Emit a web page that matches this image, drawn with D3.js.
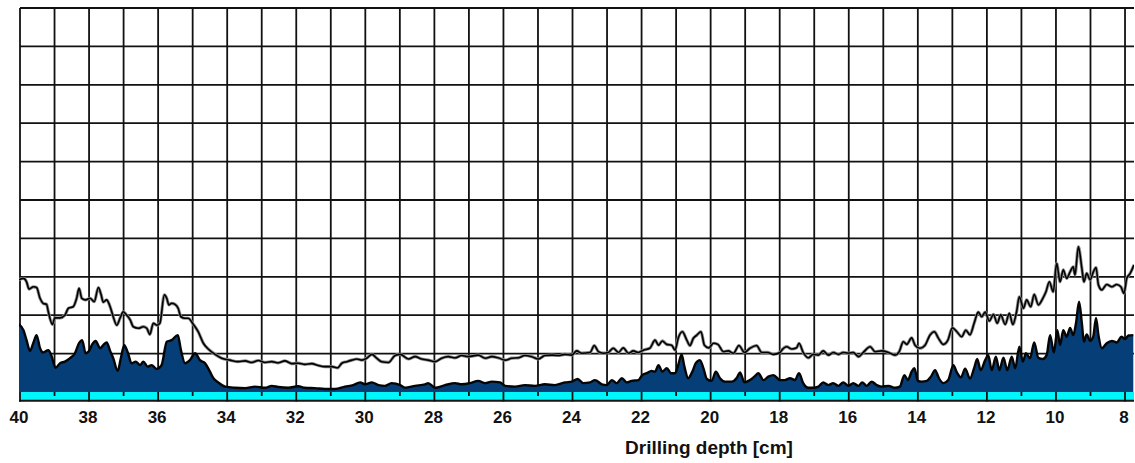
<!DOCTYPE html>
<html>
<head>
<meta charset="utf-8">
<script src="https://cdn.jsdelivr.net/npm/d3@7"></script>
<style>
  html, body { margin: 0; padding: 0; background: #fff; }
  svg { display: block; }
</style>
</head>
<body>
<svg id="chart" width="1135" height="463"></svg>
<script>
// ---- data ----
const depthTicks = [40, 38, 36, 34, 32, 30, 28, 26, 24, 22, 20, 18, 16, 14, 12, 10, 8];
const xTitle = "Drilling depth [cm]";

// upper curve (line)
const lineDepth = [40.03,39.90,39.81,39.74,39.61,39.52,39.42,39.33,39.23,39.18,39.06,38.99,38.84,38.70,38.60,38.46,38.36,38.29,38.21,38.10,37.97,37.85,37.73,37.65,37.59,37.49,37.39,37.30,37.20,37.10,37.01,36.91,36.81,36.72,36.57,36.43,36.33,36.24,36.14,36.04,35.95,35.82,35.75,35.69,35.61,35.51,35.42,35.34,35.22,35.13,34.98,34.84,34.69,34.55,34.35,34.16,33.92,33.68,33.48,33.29,33.10,32.90,32.71,32.52,32.33,32.13,31.94,31.75,31.55,31.36,31.17,30.97,30.80,30.68,30.54,30.39,30.25,30.10,29.96,29.81,29.67,29.53,29.33,29.14,28.99,28.75,28.56,28.37,28.18,27.98,27.79,27.60,27.40,27.21,27.02,26.73,26.53,26.34,26.15,25.95,25.76,25.57,25.38,25.18,24.99,24.80,24.60,24.41,24.22,24.02,23.88,23.73,23.49,23.37,23.25,23.11,22.96,22.82,22.67,22.53,22.38,22.24,22.09,21.95,21.76,21.61,21.51,21.40,21.27,21.13,21.03,20.94,20.82,20.69,20.60,20.50,20.40,20.28,20.18,20.05,19.92,19.79,19.63,19.49,19.34,19.18,19.02,18.86,18.67,18.52,18.35,18.18,17.99,17.94,17.80,17.65,17.51,17.44,17.32,17.17,17.03,16.88,16.74,16.59,16.45,16.30,16.16,16.01,15.87,15.72,15.58,15.38,15.24,15.05,14.85,14.66,14.54,14.42,14.32,14.18,14.08,13.94,13.79,13.65,13.52,13.41,13.26,13.13,13.00,12.87,12.73,12.61,12.49,12.37,12.25,12.15,12.05,11.93,11.81,11.70,11.60,11.47,11.35,11.25,11.14,11.06,10.94,10.85,10.73,10.63,10.51,10.38,10.29,10.19,10.08,9.98,9.88,9.79,9.69,9.59,9.50,9.45,9.35,9.25,9.19,9.11,9.01,8.92,8.84,8.77,8.67,8.53,8.38,8.24,8.12,8.03,7.95,7.85,7.74];
const lineValue = [2.92,2.96,2.87,2.68,2.74,2.72,2.44,2.31,2.28,2.09,1.76,1.93,1.93,2.00,2.18,2.22,2.44,2.70,2.44,2.40,2.44,2.35,2.72,2.53,2.34,2.40,2.22,1.96,1.74,1.93,2.09,2.00,1.88,1.70,1.66,1.70,1.66,1.50,1.79,1.74,1.79,2.53,2.44,2.27,2.31,2.28,2.18,1.96,1.92,1.92,1.76,1.57,1.27,1.12,0.98,0.88,0.83,0.79,0.81,0.77,0.82,0.77,0.79,0.76,0.81,0.74,0.75,0.72,0.74,0.69,0.66,0.66,0.63,0.75,0.79,0.83,0.86,0.83,0.88,0.98,0.88,0.79,0.77,0.95,0.98,0.86,0.92,0.86,0.83,0.79,0.88,0.92,0.89,0.95,0.92,0.96,0.88,0.92,0.89,0.83,0.88,0.89,0.95,0.92,0.86,0.95,0.96,0.95,0.98,0.96,1.07,1.01,1.03,1.21,1.05,1.01,1.03,1.14,1.03,1.15,1.01,1.07,1.03,1.09,1.14,1.35,1.22,1.33,1.24,1.22,1.09,1.40,1.57,1.35,1.21,1.40,1.48,1.57,1.22,1.15,1.27,1.24,1.05,1.07,1.01,1.21,1.03,1.14,1.21,1.03,1.03,0.98,1.03,1.09,1.18,1.12,1.15,1.27,1.03,0.89,0.98,0.96,1.07,0.96,1.03,0.98,1.03,1.01,1.03,0.92,1.03,1.18,1.05,1.07,1.03,0.96,1.05,1.31,1.24,1.41,1.22,1.14,1.22,1.48,1.57,1.41,1.24,1.35,1.67,1.57,1.44,1.61,1.49,1.79,2.08,1.96,2.08,1.85,2.02,1.79,2.01,1.76,2.05,1.76,2.09,2.48,2.18,2.40,2.22,2.54,2.27,2.44,2.61,2.87,2.61,3.35,2.87,3.18,2.96,3.13,3.26,3.05,3.78,3.22,2.87,3.09,2.92,3.12,3.24,2.79,2.66,2.80,2.74,2.80,2.74,2.57,2.96,3.09,3.31];

// lower curve (filled area)
const areaDepth = [40.03,39.90,39.81,39.71,39.61,39.52,39.42,39.33,39.18,39.08,38.97,38.84,38.70,38.55,38.41,38.29,38.20,38.10,38.00,37.91,37.81,37.68,37.59,37.49,37.39,37.30,37.17,37.08,36.98,36.88,36.77,36.65,36.52,36.43,36.30,36.19,36.04,35.90,35.75,35.61,35.43,35.34,35.22,35.08,34.93,34.79,34.64,34.50,34.40,34.26,34.06,33.77,33.48,33.19,32.90,32.71,32.52,32.23,31.94,31.75,31.46,31.17,30.88,30.59,30.35,30.15,30.01,29.81,29.62,29.43,29.24,28.99,28.85,28.56,28.27,28.18,27.98,27.69,27.40,27.21,26.97,26.73,26.53,26.34,26.10,25.95,25.66,25.38,25.09,24.80,24.51,24.22,24.02,23.85,23.69,23.49,23.35,23.15,23.01,22.86,22.72,22.57,22.43,22.29,22.09,21.98,21.85,21.71,21.61,21.51,21.40,21.27,21.15,21.03,20.94,20.84,20.76,20.65,20.53,20.43,20.31,20.21,20.11,19.97,19.85,19.73,19.58,19.39,19.24,19.15,19.02,18.86,18.71,18.62,18.47,18.33,18.18,17.99,17.85,17.70,17.56,17.44,17.32,17.17,17.03,16.88,16.74,16.59,16.45,16.30,16.16,16.01,15.87,15.72,15.61,15.48,15.34,15.19,15.05,14.85,14.66,14.52,14.39,14.29,14.18,14.10,14.00,13.89,13.74,13.62,13.50,13.39,13.26,13.12,12.97,12.87,12.75,12.63,12.49,12.37,12.28,12.18,12.05,11.96,11.86,11.74,11.64,11.52,11.41,11.28,11.18,11.06,10.96,10.87,10.75,10.63,10.51,10.38,10.27,10.17,10.06,9.96,9.88,9.79,9.69,9.59,9.50,9.42,9.33,9.25,9.19,9.11,9.01,8.92,8.84,8.77,8.67,8.53,8.38,8.24,8.10,8.00,7.90,7.76];
const areaValue = [1.76,1.61,1.35,1.07,1.29,1.48,1.14,1.03,1.09,0.92,0.63,0.75,0.79,0.88,1.01,1.27,1.35,1.01,1.07,1.24,1.33,1.14,1.22,1.29,1.07,0.88,0.55,0.88,1.22,1.03,0.75,0.79,0.70,0.79,0.66,0.70,0.60,0.70,1.31,1.35,1.48,1.09,0.75,0.83,1.01,0.83,0.75,0.53,0.36,0.25,0.14,0.11,0.10,0.14,0.11,0.16,0.13,0.11,0.15,0.11,0.10,0.08,0.08,0.14,0.18,0.25,0.20,0.25,0.18,0.16,0.23,0.18,0.11,0.16,0.20,0.23,0.11,0.18,0.23,0.20,0.23,0.29,0.23,0.27,0.25,0.16,0.14,0.18,0.16,0.20,0.18,0.25,0.27,0.34,0.23,0.25,0.31,0.20,0.18,0.31,0.23,0.36,0.25,0.29,0.31,0.44,0.49,0.55,0.53,0.70,0.53,0.62,0.49,0.49,0.70,0.98,0.66,0.36,0.53,0.75,0.83,0.62,0.34,0.29,0.53,0.36,0.27,0.27,0.37,0.51,0.25,0.31,0.42,0.49,0.31,0.40,0.44,0.31,0.31,0.36,0.31,0.49,0.23,0.11,0.11,0.14,0.25,0.18,0.23,0.16,0.25,0.16,0.23,0.16,0.25,0.16,0.27,0.18,0.14,0.16,0.11,0.14,0.44,0.31,0.53,0.62,0.29,0.27,0.29,0.40,0.57,0.36,0.23,0.31,0.70,0.51,0.38,0.61,0.35,0.62,0.86,0.57,0.83,0.96,0.57,0.92,0.57,0.89,0.57,0.92,0.62,1.18,0.79,1.01,0.88,1.29,0.89,0.86,0.96,1.48,1.03,1.61,1.22,1.61,1.44,1.67,1.48,1.79,2.35,1.79,1.31,1.50,1.33,1.44,1.93,1.48,1.14,1.27,1.33,1.29,1.44,1.38,1.47,1.48];

// ---- layout ----
const svg = d3.select("#chart");
const x = d3.scaleLinear().domain([40, 7.74]).range([20, 1134]);
const y = d3.scaleLinear().domain([0, 10]).range([392, 8]);

const gridColor = "#111";
const xStart = x(40), xEnd = x(7.74);

// cyan band
svg.append("rect")
  .attr("x", xStart).attr("y", y(0))
  .attr("width", xEnd - xStart).attr("height", 8)
  .attr("fill", "#00f6fb");

// grid
const grid = svg.append("g").attr("stroke", gridColor).attr("stroke-width", 1.8).attr("fill", "none");
grid.selectAll("line.h").data(d3.range(1, 11)).join("line")
  .attr("class", "h")
  .attr("x1", xStart).attr("x2", xEnd)
  .attr("y1", d => y(d)).attr("y2", d => y(d));
grid.selectAll("line.v").data(d3.range(8, 41)).join("line")
  .attr("class", "v")
  .attr("x1", d => x(d)).attr("x2", d => x(d))
  .attr("y1", y(10)).attr("y2", y(0));

// data
const lineData = lineDepth.map((d, i) => ({ d, v: lineValue[i] }));
const areaData = areaDepth.map((d, i) => ({ d, v: areaValue[i] }));

svg.append("defs").append("clipPath").attr("id", "plotclip")
  .append("rect").attr("x", x(40) - 1).attr("y", y(10)).attr("width", xEnd - x(40) + 1).attr("height", y(0) - y(10));

const plot = svg.append("g").attr("clip-path", "url(#plotclip)");

const area = d3.area().x(p => x(p.d)).y0(y(0)).y1(p => y(p.v)).curve(d3.curveMonotoneX);
const topLine = d3.line().x(p => x(p.d)).y(p => y(p.v)).curve(d3.curveMonotoneX);

plot.append("path").datum(areaData).attr("d", area).attr("fill", "#063e77");
plot.append("path").datum(areaData).attr("d", topLine)
  .attr("fill", "none").attr("stroke", "#050505").attr("stroke-width", 2.4).attr("stroke-linejoin", "round");

plot.append("path").datum(lineData).attr("d", topLine)
  .attr("fill", "none").attr("stroke", "#8c8c8c").attr("stroke-width", 3.2).attr("stroke-linejoin", "round");
plot.append("path").datum(lineData).attr("d", topLine)
  .attr("fill", "none").attr("stroke", "#000").attr("stroke-width", 1.6).attr("stroke-linejoin", "round");

// axis line and ticks
svg.append("line")
  .attr("x1", xStart - 1).attr("x2", xEnd)
  .attr("y1", y(0) + 8.8).attr("y2", y(0) + 8.8)
  .attr("stroke", "#111").attr("stroke-width", 2);

const ticks = svg.append("g").attr("stroke", "#111").attr("stroke-width", 1.8);
ticks.selectAll("line").data(d3.range(8, 41)).join("line")
  .attr("x1", d => x(d)).attr("x2", d => x(d))
  .attr("y1", y(0))
  .attr("y2", d => d % 2 === 0 ? y(0) + 9.5 : y(0) + 4);

// tick labels
svg.append("g").selectAll("text").data(depthTicks).join("text")
  .attr("x", d => x(d) - 1)
  .attr("y", 422.5)
  .attr("text-anchor", "middle")
  .attr("font-family", "'Liberation Sans', Arial, sans-serif")
  .attr("font-weight", "bold")
  .attr("font-size", 17)
  .attr("fill", "#111")
  .text(d => d);

// axis title
svg.append("text")
  .attr("x", 709).attr("y", 454)
  .attr("text-anchor", "middle")
  .attr("font-family", "'Liberation Sans', Arial, sans-serif")
  .attr("font-weight", "bold")
  .attr("font-size", 19)
  .attr("fill", "#111")
  .text(xTitle);
</script>
</body>
</html>
